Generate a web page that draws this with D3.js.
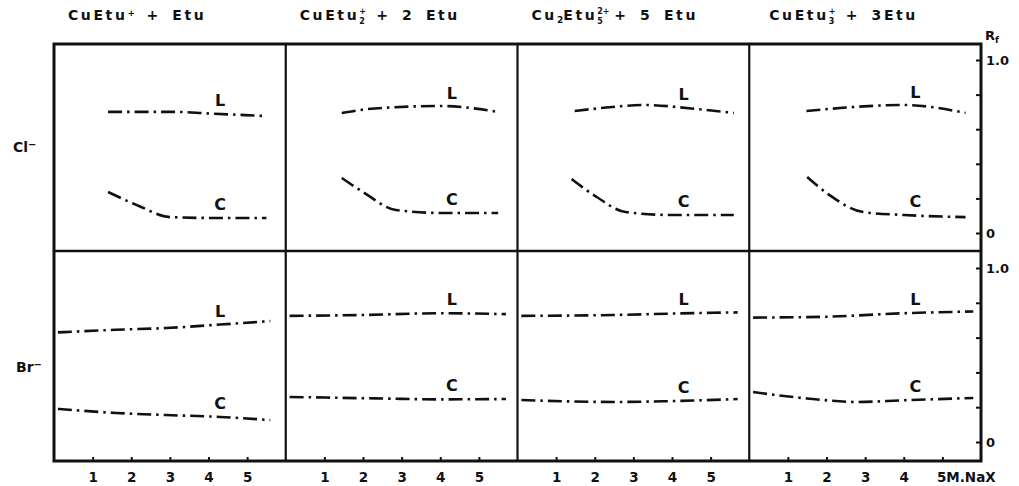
<!DOCTYPE html>
<html>
<head>
<meta charset="utf-8">
<script src="https://cdn.jsdelivr.net/npm/d3@7"></script>
<style>
  body { margin: 0; background: #fff; }
  svg text { font-family: "DejaVu Sans", sans-serif; font-weight: bold; fill: #111; }
</style>
</head>
<body>
<div id="container"></div>
<script>
// panel titles, split into [text, kind] parts (kind: "", "sup", "sub", "stack:<sub>")
const panelTitles = [
    [["CuEtu", ""], ["+", "sup"], [" + Etu", ""]],
    [["CuEtu", ""], ["+", "stack:2"], [" + 2 Etu", ""]],
    [["Cu", ""], ["2", "sub"], ["Etu", ""], ["2+", "stack:5"], [" + 5 Etu", ""]],
    [["CuEtu", ""], ["+", "stack:3"], [" + 3Etu", ""]]
];
const rowLabels = ["Cl", "Br"];
const xTicks = [1, 2, 3, 4, 5];
const rfTicks = [0, 0.2, 0.4, 0.6, 0.8, 1.0];

// [M NaX, Rf] points per panel
const clL = [
    [[1.4, 0.70], [3.1, 0.70], [4.1, 0.69], [5.5, 0.676]],
    [[1.45, 0.694], [2.3, 0.72], [4.0, 0.734], [5.5, 0.70]],
    [[1.48, 0.705], [2.3, 0.725], [3.3, 0.74], [4.5, 0.72], [5.6, 0.694]],
    [[1.48, 0.705], [2.5, 0.725], [4.0, 0.74], [5.6, 0.694]]
];
const clC = [
    [[1.4, 0.237], [2.2, 0.156], [3.0, 0.092], [4.1, 0.087], [5.5, 0.087]],
    [[1.45, 0.318], [2.0, 0.237], [2.85, 0.133], [4.0, 0.116], [5.5, 0.116]],
    [[1.4, 0.312], [2.05, 0.208], [2.8, 0.121], [4.0, 0.104], [5.6, 0.104]],
    [[1.5, 0.324], [2.07, 0.22], [2.95, 0.121], [4.0, 0.104], [5.6, 0.092]]
];
const brL = [
    [[0.1, 0.63], [1.6, 0.645], [2.9, 0.655], [4.3, 0.675], [5.6, 0.695]],
    [[0.1, 0.725], [2.0, 0.73], [4.0, 0.74], [5.7, 0.735]],
    [[0.1, 0.725], [2.5, 0.73], [4.0, 0.738], [5.7, 0.745]],
    [[0.1, 0.715], [2.0, 0.72], [4.0, 0.74], [5.8, 0.75]]
];
const brC = [
    [[0.1, 0.19], [1.6, 0.167], [2.9, 0.155], [4.3, 0.144], [5.6, 0.126]],
    [[0.1, 0.259], [2.5, 0.25], [4.0, 0.245], [5.7, 0.247]],
    [[0.1, 0.241], [2.5, 0.23], [4.0, 0.235], [5.7, 0.247]],
    [[0.1, 0.287], [1.5, 0.25], [2.8, 0.23], [4.0, 0.24], [5.8, 0.253]]
];

const main = (container) => {
    const W = 1019, H = 486;
    const left = 54, right = 981, top = 44, mid = 251, bottom = 461;

    const svg = d3.select(container)
        .append("svg")
        .attr("width", W)
        .attr("height", H);

    const panelEdge = d3.scaleLinear().domain([0, 4]).range([left, right]);
    const rowY = [
        d3.scaleLinear().domain([0, 1]).range([233, 60]),
        d3.scaleLinear().domain([0, 1]).range([442, 268])
    ];
    const rows = [[clL, clC], [brL, brC]];

    const dash = "14,5,2.5,5";

    panelTitles.forEach((parts, p) => {
        const x = d3.scaleLinear().domain([0, 6]).range([panelEdge(p), panelEdge(p + 1)]);

        // title
        const t = svg.append("text")
            .attr("x", panelEdge(p) + (p === 3 ? 20 : 14))
            .attr("y", 20)
            .style("font-size", "14px")
            .style("letter-spacing", "2.6px")
            .style("word-spacing", "4px");
        parts.forEach(([s, kind]) => {
            if (kind === "") {
                t.append("tspan").attr("baseline-shift", "0%").text(s);
            } else if (kind === "sup") {
                t.append("tspan").attr("baseline-shift", "50%").style("font-size", "9px").style("letter-spacing", "0px").text(s);
            } else if (kind === "sub") {
                t.append("tspan").attr("baseline-shift", "-35%").style("font-size", "9px").style("letter-spacing", "0px").text(s);
            } else {
                // superscript stacked over a subscript
                const sub = kind.split(":")[1];
                const sup = t.append("tspan").attr("baseline-shift", "80%")
                    .style("font-size", "8px").style("letter-spacing", "0px").text(s);
                const w = sup.node().getComputedTextLength();
                t.append("tspan").attr("dx", -w).attr("baseline-shift", "-55%")
                    .style("font-size", "8px").style("letter-spacing", "0px").text(sub);
                if (w > 7) t.append("tspan").attr("dx", w - 6).text("");
            }
        });

        rows.forEach(([lSet, cSet], r) => {
            const y = rowY[r];
            const line = d3.line()
                .x(d => x(d[0]))
                .y(d => y(d[1]))
                .curve(d3.curveMonotoneX);

            [lSet[p], cSet[p]].forEach((pts, k) => {
                svg.append("path")
                    .attr("d", line(pts))
                    .attr("fill", "none")
                    .attr("stroke", "#111")
                    .attr("stroke-width", 2.6)
                    .attr("stroke-dasharray", dash);

                // curve label L / C
                const lx = 4.3;
                const i = d3.bisector(d => d[0]).left(pts, lx);
                const a = pts[Math.max(i - 1, 0)], b = pts[Math.min(i, pts.length - 1)];
                const v = a[1] + (b[1] - a[1]) * ((lx - a[0]) / ((b[0] - a[0]) || 1));
                svg.append("text")
                    .attr("x", x(lx))
                    .attr("y", y(v) - 8)
                    .attr("text-anchor", "middle")
                    .style("font-size", "16px")
                    .text(k === 0 ? "L" : "C");
            });
        });

        // bottom axis
        const ax = svg.append("g")
            .attr("transform", `translate(0,${bottom})`)
            .call(d3.axisBottom(x).tickValues(xTicks)
                .tickSizeInner(-4).tickSizeOuter(0).tickPadding(11)
                .tickFormat(d => (p === 3 && d === 5) ? "5M.NaX" : d));
        ax.select(".domain").remove();
        ax.selectAll("line").attr("stroke", "#111").attr("stroke-width", 2);
        ax.selectAll("text")
            .style("font-size", "13.5px")
            .style("font-family", "DejaVu Sans, sans-serif")
            .attr("fill", "#111");
        if (p === 3) {
            ax.selectAll("text").filter(d => d === 5)
                .attr("text-anchor", "start")
                .attr("x", -6);
        }
    });

    // right Rf axes
    rowY.forEach(y => {
        const ra = svg.append("g")
            .attr("transform", `translate(${right},0)`)
            .call(d3.axisRight(y).tickValues(rfTicks)
                .tickSizeInner(-5).tickSizeOuter(0).tickPadding(5)
                .tickFormat(d => d === 1 ? "1.0" : d === 0 ? "0" : ""));
        ra.select(".domain").remove();
        ra.selectAll("line").attr("stroke", "#111").attr("stroke-width", 2);
        ra.selectAll("text")
            .style("font-size", "13px")
            .style("font-family", "DejaVu Sans, sans-serif")
            .attr("fill", "#111");
    });

    // frame and dividers
    svg.append("rect")
        .attr("x", left).attr("y", top)
        .attr("width", right - left).attr("height", bottom - top)
        .attr("fill", "none").attr("stroke", "#111").attr("stroke-width", 3);
    svg.append("line")
        .attr("x1", left).attr("x2", right).attr("y1", mid).attr("y2", mid)
        .attr("stroke", "#111").attr("stroke-width", 2.6);
    [1, 2, 3].forEach(i => {
        svg.append("line")
            .attr("x1", panelEdge(i)).attr("x2", panelEdge(i))
            .attr("y1", top).attr("y2", bottom)
            .attr("stroke", "#111").attr("stroke-width", 2.2);
    });

    // row labels
    rowLabels.forEach((s, r) => {
        const t = svg.append("text")
            .attr("x", r === 0 ? 13 : 16)
            .attr("y", r === 0 ? 152 : 372)
            .style("font-size", "14px");
        t.append("tspan").text(s);
        t.append("tspan").attr("baseline-shift", "40%").style("font-size", "10px").text("−");
    });

    // Rf label
    const rf = svg.append("text").attr("x", 985).attr("y", 40).style("font-size", "13px");
    rf.append("tspan").text("R");
    rf.append("tspan").attr("baseline-shift", "-30%").style("font-size", "9px").text("f");
};

const container = document.getElementById("container");
main(container);
</script>
</body>
</html>
